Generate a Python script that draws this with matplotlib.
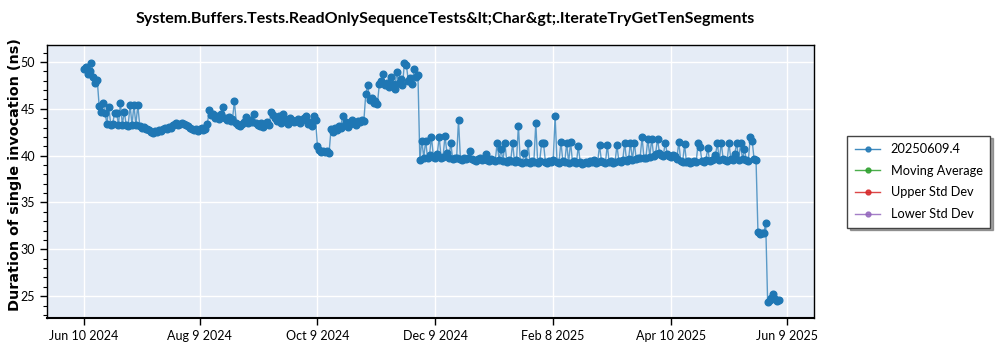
import datetime as dt

import matplotlib
matplotlib.use("Agg")
import matplotlib.dates as mdates
import matplotlib.pyplot as plt
from matplotlib.lines import Line2D
from matplotlib.ticker import MultipleLocator

# run dates are day offsets from the first benchmark run
START = dt.date(2024, 6, 10)

# Jun 2024: initial high plateau, drop to ~45 then ~43
vals_jun_aug = [
    49.2, 49.5, 48.7, 49.0, 49.9, 48.4, 47.8, 48.1,          # days 0-7
    45.3, 44.7, 45.6, 44.6,                                  # days 8-11
    43.4, 45.2, 43.3, 43.4, 44.6, 44.6, 43.3, 45.6, 43.3, 44.7,
    43.3, 43.2, 45.4, 43.3, 45.4, 43.3, 45.4, 43.2,          # days 12-29
    43.0, 43.1, 42.9, 42.8, 42.7, 42.5, 42.4, 42.6, 42.5, 42.7,
    42.6, 42.8, 43.0, 42.9, 43.1, 43.0, 43.3, 43.4, 43.5, 43.3,
    43.4, 43.5, 43.4, 43.3, 43.2, 43.0, 42.8, 42.7, 42.9, 42.6,
    42.8, 43.0, 42.7, 42.9,                                  # days 30-63
]

# Aug-Oct 2024: noisy band around 43-45
vals_aug_oct = [
    43.4, 44.9, 44.3, 44.5, 44.0, 44.2, 43.9, 44.4, 45.2, 44.0,
    43.8, 44.1, 43.7, 43.9, 45.8, 43.5, 43.3, 43.2, 43.4, 43.6,
    44.1, 43.5, 43.8, 43.6, 44.4, 43.5, 43.3, 43.2, 43.5, 43.1,
    43.4, 43.6, 43.3, 44.7, 44.3, 44.0, 43.7, 44.2, 43.5, 44.5,
    43.9, 43.6, 43.4, 44.0, 43.8, 43.6, 43.7, 43.9, 43.5, 43.8,
    44.0, 44.2, 43.4, 43.6, 43.2, 44.2, 43.8,                # days 64-120
]

# Oct-Nov 2024: short dip to 40.5, then climb to ~48
vals_oct_nov = [
    41.0, 40.6, 40.4, 40.5, 40.4, 40.5, 40.3,                # days 121-127
    42.8, 42.5, 43.0, 42.7, 43.2, 43.0, 44.2, 43.3, 43.6, 43.1,
    43.4, 43.8, 43.5, 43.3, 43.7, 43.6, 43.8, 43.7,          # days 128-145
    46.6, 47.5, 45.9, 46.2, 45.6, 45.8, 45.5,                # days 146-152
    47.6, 48.0, 48.7, 47.5, 47.8, 47.3, 48.4, 47.6, 47.1, 48.9,
    47.8, 48.2, 47.5, 49.9, 49.7, 48.0, 48.3, 47.6, 49.3, 48.4,
    48.6,                                                    # days 153-173
]

# Dec 2024 - May 2025: ~39.5 baseline with frequent outliers
vals_dec_may = [
    39.5, 41.6, 39.8, 41.6, 39.7, 40.1, 42.0, 39.9, 39.7, 40.2,
    42.0, 39.8, 39.9, 42.1, 40.3, 39.7, 41.4, 39.6, 39.8, 39.7,
    43.8, 39.6, 39.5, 39.7, 39.6, 39.8, 40.5, 39.6, 39.5, 39.4,
    39.6, 39.7, 39.5, 39.6, 40.2, 39.5, 39.4, 39.6, 39.5, 39.4,
    41.4, 39.5, 40.7, 39.4, 41.4, 39.3, 39.5, 39.4, 41.4, 39.3,
    39.5, 43.2, 39.3, 39.2, 40.3, 39.3, 41.4, 39.2, 39.4, 39.3,
    43.5, 39.2, 39.4, 41.3, 41.3, 39.3, 39.2, 39.4, 39.3, 39.5,
    44.2, 39.3, 39.2, 41.5, 39.4, 39.3, 41.4, 39.2, 41.5, 39.3,
    39.4, 39.2, 41.0, 39.3, 39.1, 39.2, 39.3, 39.2, 39.4, 39.3,
    39.5, 39.2, 39.3, 41.1, 39.4, 39.3, 39.2, 41.1, 39.3, 39.4,
    39.2, 39.3, 41.1, 39.4, 39.3, 39.5, 41.4, 39.4, 39.6, 41.4,
    39.5, 41.4, 39.6, 39.7, 39.8, 42.0, 39.7, 39.8, 41.8, 39.9,
    41.8, 40.0, 40.2, 41.8, 40.3, 40.1, 40.0, 41.4, 40.2, 40.0,
    39.9, 40.1, 40.0, 39.6, 41.5, 39.4, 39.3, 41.2, 39.3, 39.4,
    39.2, 39.3, 39.4, 39.3, 41.3, 40.9, 39.4, 39.3, 39.5, 40.8,
    39.4, 39.5, 39.6, 40.1, 41.3, 39.5, 41.4, 39.6, 39.5, 39.4,
    41.3, 39.6, 39.5, 40.2, 41.4, 39.5, 41.3, 39.6, 40.7, 39.5,
    39.4, 42.0, 41.6, 39.6, 39.5,                            # days 174-348
]

# late May / June 2025: two step improvements
vals_jun = [
    31.8, 31.6, 31.7, 31.7, 32.8,                            # days 349-353
    24.4, 24.6, 24.8, 25.2, 24.7, 24.5, 24.6,                # days 354-360
]

values = vals_jun_aug + vals_aug_oct + vals_oct_nov + vals_dec_may + vals_jun
dates = [START + dt.timedelta(days=i) for i in range(len(values))]

tick_dates = [dt.date(2024, 6, 10), dt.date(2024, 8, 9), dt.date(2024, 10, 9),
              dt.date(2024, 12, 9), dt.date(2025, 2, 8), dt.date(2025, 4, 10),
              dt.date(2025, 6, 9)]

legend_labels = ["20250609.4", "Moving Average", "Upper Std Dev", "Lower Std Dev"]
legend_colors = ["#1f77b4", "#2ca02c", "#d62728", "#9467bd"]

TITLE = "System.Buffers.Tests.ReadOnlySequenceTests&lt;Char&gt;.IterateTryGetTenSegments"

fig = plt.figure(figsize=(10, 3.5), dpi=100)
ax = fig.add_axes([0.047, 0.091, 0.767, 0.78])
ax.set_facecolor("#e5ecf6")

ax.plot(dates, values, color="#1f77b4", lw=1.0, alpha=0.7, zorder=2)
ax.plot(dates, values, ls="none", marker="o", ms=4.8, color="#1f77b4",
        mec="#1f77b4", zorder=3)

ax.set_xlim(dt.date(2024, 5, 22), dt.date(2025, 6, 23))
ax.set_ylim(22.65, 51.8)
ax.set_xticks(tick_dates)
ax.xaxis.set_major_formatter(mdates.DateFormatter("%b %-d %Y"))
ax.yaxis.set_major_locator(MultipleLocator(5))
ax.yaxis.set_minor_locator(MultipleLocator(1))

ax.grid(True, which="major", color="white", lw=1.0)
ax.set_axisbelow(True)
for side in ["left", "right", "top"]:
    ax.spines[side].set_linewidth(1.0)
ax.spines["bottom"].set_linewidth(1.5)
ax.tick_params(which="major", length=5, width=1, labelsize=9, colors="black")
ax.tick_params(which="minor", length=3, width=0.8)
for lbl in ax.get_xticklabels() + ax.get_yticklabels():
    lbl.set_family("Lato")

ax.set_ylabel("Duration of single invocation (ns)", fontsize=10.4, fontweight="bold",
              family="DejaVu Sans")
ax.yaxis.set_label_coords(-0.033, 0.525)
fig.text(0.445, 0.945, TITLE, ha="center", va="center", fontsize=11.5,
         fontweight="bold", family="Lato")

handles = [Line2D([], [], color=c, marker="o", ms=3.5, lw=1.0, alpha=0.85)
           for c in legend_colors]
leg = ax.legend(handles, legend_labels, loc="center left",
                bbox_to_anchor=(1.035, 0.5), frameon=True, fancybox=False,
                shadow=True, handlelength=2.0, labelspacing=0.75,
                borderpad=0.6, prop={"family": "Lato", "size": 9.2})
leg.get_frame().set_edgecolor("#444444")
leg.get_frame().set_linewidth(1.0)

fig.savefig("out.png", dpi=100)
